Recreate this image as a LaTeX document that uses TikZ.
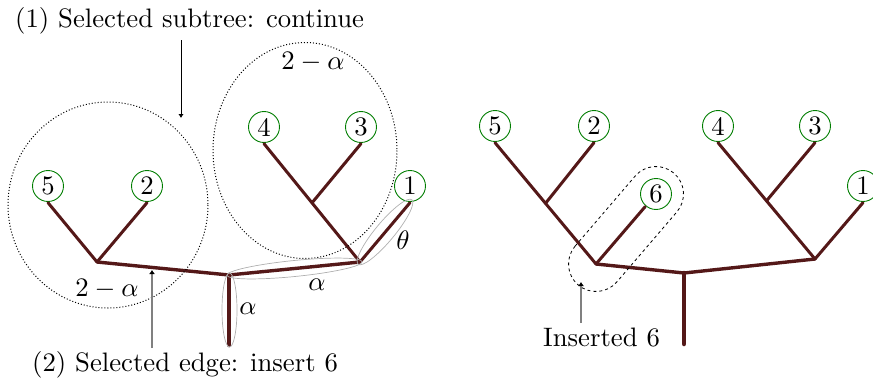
\documentclass[tikz,border=0pt]{standalone}
\usetikzlibrary{arrows.meta,calc}
\definecolor{edgecol}{RGB}{84,24,24}
\definecolor{leafgreen}{RGB}{0,125,0}
\definecolor{ellgray}{RGB}{175,175,175}
\begin{document}
\begin{tikzpicture}[x=1pt,y=-1pt,
  every node/.style={scale=2.67, inner sep=1pt},
  leaf/.style={circle, draw=leafgreen, line width=0.9pt, minimum size=11.6pt, inner sep=0pt},
  leafedge/.style={draw=edgecol, line width=3pt, line cap=round},
  inneredge/.style={draw=edgecol, line width=3.4pt, line cap=round, line join=round},
  trunk/.style={draw=edgecol, line width=4.5pt, line cap=round},
  grayell/.style={draw=ellgray, line width=0.7pt},
  subtree/.style={draw=black, dotted, line width=1pt},
  loopline/.style={draw=black, dashed, line width=0.8pt},
  blackarrow/.style={draw=black, line width=1pt, -{Latex[length=4pt,width=5.5pt]}},
  grayarrow/.style={draw=gray, line width=1.6pt, -{Latex[black,length=4pt,width=6pt]}},
  lbl/.style={}]
\useasboundingbox (0,0) rectangle (873,381);

% ---------- left tree ----------
\node[leaf] (l5) at (48,186) {5};
\node[leaf] (l2) at (147,186) {2};
\node[leaf] (l4) at (264,127) {4};
\node[leaf] (l3) at (361,127) {3};
\node[leaf] (l1) at (410,186) {1};
\coordinate (lA) at (97,262);
\coordinate (lB) at (360,262);
\coordinate (lR) at (229,275);
\coordinate (lT) at (229,345);
\coordinate (lC) at ($(l4.south)!0.5!(lB)$);

\draw[leafedge] (l5.south) -- (lA);
\draw[leafedge] (l2.south) -- (lA);
\draw[leafedge] (l4.south) -- (lB);
\draw[leafedge] (l3.south) -- (lC);
\draw[leafedge] (l1.south) -- (lB);
\draw[inneredge] (lA) -- (lR) -- (lB);
\draw[trunk] (lR) -- (lT);

% subtree circles
\draw[subtree] (108,205) ellipse[x radius=100, y radius=103];
\draw[subtree] (305,150.5) ellipse[x radius=92, y radius=108];

% gray ellipses
\draw[grayell] (229.5,310) ellipse[x radius=7.5, y radius=37];
\draw[grayell, rotate around={5.7:(294.5,268.5)}] (294.5,268.5) ellipse[x radius=68, y radius=8];
\draw[grayell, rotate around={50.2:(385,232)}] (385,232) ellipse[x radius=42, y radius=9.5];

% labels
\node[lbl] (la1) at (248,309) {$\alpha$};
\node[lbl] (la2) at (317,285) {$\alpha$};
\node[lbl] (lth) at (403,240) {$\theta$};
\node[lbl] (lt1) at (313,62) {$2-\alpha$};
\node[lbl] (lt2) at (107,289) {$2-\alpha$};

% annotations
\node[anchor=base west] (t1) at (12,27) {(1) Selected subtree: continue};
\node[anchor=base west] (t2) at (29,371) {(2) Selected edge: insert 6};
\coordinate (a1s) at (181,40);
\coordinate (a1e) at (181,118);
\draw[blackarrow] (a1s) -- (a1e);
\coordinate (a2s) at (152,348);
\coordinate (a2e) at (152,270);
\draw[grayarrow] (a2s) -- (a2e);

% ---------- right tree ----------
\node[leaf] (r5) at (495,126) {5};
\node[leaf] (r2) at (594,126) {2};
\node[leaf] (r4) at (718,126) {4};
\node[leaf] (r3) at (815,126) {3};
\node[leaf] (r1) at (863,186) {1};
\node[leaf] (r6) at (656,194) {6};
\coordinate (rA) at (596,264);
\coordinate (rR) at (684,273);
\coordinate (rT) at (684,344);
\coordinate (rB) at (815,259);
\coordinate (rD) at ($(r5.south)!0.5!(rA)$);
\coordinate (rC) at ($(r4.south)!0.5!(rB)$);

\draw[leafedge] (r5.south) -- (rA);
\draw[leafedge] (r2.south) -- (rD);
\draw[leafedge] (r6) -- (rA);
\draw[leafedge] (r4.south) -- (rB);
\draw[leafedge] (r3.south) -- (rC);
\draw[leafedge] (r1.south) -- (rB);
\draw[inneredge] (rA) -- (rR) -- (rB);
\draw[trunk] (rR) -- (rT);

% dashed loop around inserted edge
\draw[loopline] ($(rA)+(-139.4:27.5)$) -- ($(r6)+(-139.4:27.5)$)
  arc[start angle=-139.4, end angle=40.6, radius=27.5]
  -- ($(rA)+(40.6:27.5)$)
  arc[start angle=40.6, end angle=220.6, radius=27.5] -- cycle;

\node[anchor=base west] (t3) at (540,346.5) {Inserted 6};
\coordinate (a3s) at (581,323);
\coordinate (a3e) at (581,282);
\draw[grayarrow] (a3s) -- (a3e);
\end{tikzpicture}
\end{document}
